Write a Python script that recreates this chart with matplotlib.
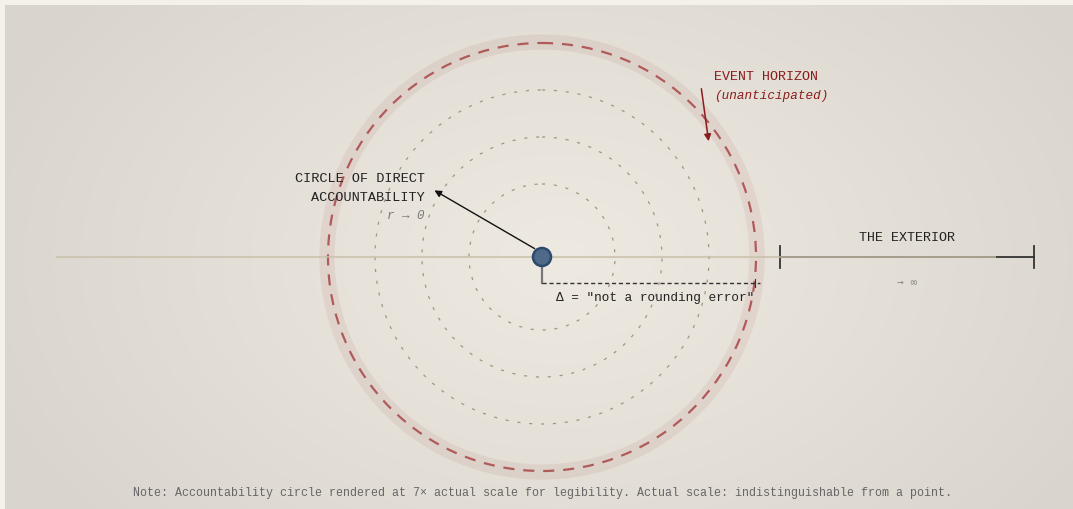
import numpy as np
import matplotlib.pyplot as plt
from matplotlib.patches import Circle

# geometry (pixel space of the picture)
centre = (542, 258)
ring_radii = [73, 120, 167]
horizon_r = 214
halo_r = 215
exterior_span = [780, 1034]
axis_span = [57, 995]

labels_left = ["CIRCLE OF DIRECT", "ACCOUNTABILITY"]
horizon_lbl = ["EVENT HORIZON", "(unanticipated)"]
exterior_lbl = "THE EXTERIOR"
delta_lbl = 'Δ = "not a rounding error"'
note = ("Note: Accountability circle rendered at 7\u00d7 actual scale for legibility. "
        "Actual scale: indistinguishable from a point.")

W, H = 1073, 510
fig = plt.figure(figsize=(W / 100, H / 100), dpi=100)
fig.patch.set_facecolor("#f4f0ea")
ax = fig.add_axes([0, 0, 1, 1])

# radial background panel
yy, xx = np.mgrid[6:H, 5:W]
d = np.sqrt(((xx - 560) / 620.0) ** 2 + ((yy - 260) / 420.0) ** 2)
d = np.clip(d, 0, 1)
c_in = np.array([239, 234, 225]) / 255
c_out = np.array([217, 212, 205]) / 255
img = c_in[None, None, :] * (1 - d[..., None]) + c_out[None, None, :] * d[..., None]
ax.imshow(img, extent=[5, W, H, 6], zorder=0, interpolation="bilinear")
ax.set_xlim(0, W)
ax.set_ylim(H, 0)
ax.axis("off")

mono = "Liberation Mono"

# horizon halo + dashed horizon
ax.add_patch(Circle(centre, halo_r, fill=False, ec="#a05050", alpha=0.09, lw=11, zorder=1))
ax.add_patch(Circle(centre, horizon_r, fill=False, ec="#b05a5a", lw=1.6,
                    ls=(0, (5, 4)), zorder=2))

# dotted rings
for r in ring_radii:
    ax.add_patch(Circle(centre, r, fill=False, ec="#a0987e", lw=0.9,
                        ls=(0, (2.5, 7)), zorder=2))

# exterior bar
ax.plot(exterior_span, [centre[1]] * 2, color="#333333", lw=1.3, zorder=2)
for x in exterior_span:
    ax.plot([x, x], [centre[1] - 11, centre[1] + 11], color="#333333", lw=1.3, zorder=3)

# axis line
ax.plot(axis_span, [centre[1]] * 2, color="#c8bfa9", lw=1.5, alpha=0.75, zorder=3)

ax.text(907, 238, exterior_lbl, ha="center", va="center", fontsize=9.6,
        family=mono, color="#222222")
ax.text(907, 283, "\u2192 \u221e", ha="center", va="center", fontsize=8,
        family="DejaVu Sans Mono", color="#888888")

# delta bracket
ax.plot([centre[0], centre[0]], [centre[1], 284], color="#777777", lw=1.6, zorder=3)
ax.plot([centre[0], 760], [284, 284], color="#333333", lw=1, ls=(0, (3, 2)), zorder=3)
ax.plot([755, 755], [280, 288], color="#333333", lw=0.8, zorder=3)
ax.text(655, 298, delta_lbl, ha="center", va="center", fontsize=9.2,
        family=mono, color="#222222")

# arrow to accountability label
ax.annotate("", xy=(432, 190), xytext=(537, 251),
            arrowprops=dict(arrowstyle="-|>", color="#111111", lw=1,
                            mutation_scale=10), zorder=4)
ax.text(425, 179, labels_left[0], ha="right", va="center", fontsize=9.7,
        family=mono, color="#222222")
ax.text(425, 198, labels_left[1], ha="right", va="center", fontsize=9.7,
        family=mono, color="#222222")
ax.text(424, 216, "r \u2192 0", ha="right", va="center", fontsize=9,
        family=mono, style="italic", color="#777777")

# event horizon label
ax.text(714, 77, horizon_lbl[0], ha="left", va="center", fontsize=9.6,
        family=mono, color="#8b1c1c")
ax.text(714, 96, horizon_lbl[1], ha="left", va="center", fontsize=9.1,
        family=mono, style="italic", color="#8b1c1c")
ax.annotate("", xy=(709, 145), xytext=(701, 87),
            arrowprops=dict(arrowstyle="-|>", color="#8b1c1c", lw=1.1,
                            mutation_scale=10), zorder=4)

# centre point
ax.add_patch(Circle(centre, 9, fc="#4f6a89", ec="#2c4a6e", lw=1.8, zorder=5))

ax.text(542, 493, note, ha="center", va="center", fontsize=8.4,
        family=mono, color="#666666")

fig.savefig("out.png", dpi=100, facecolor=fig.get_facecolor())
